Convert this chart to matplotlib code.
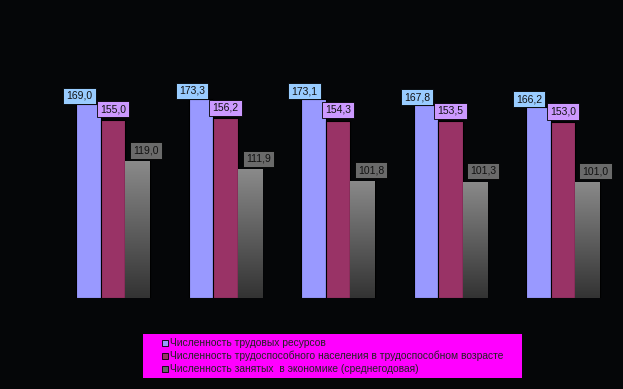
import numpy as np
import matplotlib
matplotlib.use("Agg")
import matplotlib.pyplot as plt
from matplotlib.patches import Rectangle

categories = ["1", "2", "3", "4", "5"]
series_names = [
    "Численность трудовых ресурсов",
    "Численность трудоспособного населения в трудоспособном возрасте",
    "Численность занятых  в экономике (среднегодовая)",
]
s1 = [169.0, 173.3, 173.1, 167.8, 166.2]
s2 = [155.0, 156.2, 154.3, 153.5, 153.0]
s3 = [119.0, 111.9, 101.8, 101.3, 101.0]

W, H = 623, 389
fig = plt.figure(figsize=(W / 100, H / 100), dpi=100)
fig.patch.set_facecolor("#050608")
ax = fig.add_axes([57 / W, 1 - 298 / H, 562 / W, 230 / H])
ax.set_facecolor("#050608")
for sp in ax.spines.values():
    sp.set_visible(False)
ax.set_xticks([])
ax.set_yticks([])
ax.set_ylim(0, 200)
ax.set_xlim(-0.5, len(categories) - 0.5)

x = np.arange(len(categories))
bw = 0.218
fam = ["Liberation Sans", "DejaVu Sans"]

b1 = ax.bar(x - bw, s1, bw, color="#9999FF", edgecolor="#000000", linewidth=0.8)
b2 = ax.bar(x, s2, bw, color="#993366", edgecolor="#000000", linewidth=0.8)
b3 = ax.bar(x + bw, s3, bw, color="none", edgecolor="#000000", linewidth=0.8)

# gradient for the third series
grad = np.linspace(0, 1, 256).reshape(-1, 1)
cmap = matplotlib.colors.LinearSegmentedColormap.from_list("g", ["#333333", "#8a8a8a"])
for r in b3:
    x0 = r.get_x()
    h = r.get_height()
    im = ax.imshow(grad, extent=(x0, x0 + r.get_width(), 0, h), origin="lower",
                   cmap=cmap, aspect="auto", zorder=1.5)
    im.set_clip_path(r)
ax.set_xlim(-0.5, len(categories) - 0.5)
ax.set_ylim(0, 200)

def lab(bars, vals, dx, dy, fc):
    for r, v in zip(bars, vals):
        ax.annotate(f"{v:.1f}".replace(".", ","),
                    (r.get_x() + r.get_width() / 2, v),
                    xytext=(dx, dy), textcoords="offset points",
                    ha="center", va="bottom", fontsize=7.5, color="#111111",
                    family=fam, zorder=5,
                    bbox=dict(boxstyle="square,pad=0.3", fc=fc, ec="#000000", lw=0.6))

lab(b1, s1, -6.5, 2.0, "#99CCFF")
lab(b2, s2, 0, 4.0, "#CC99FF")
lab(b3, s3, 6, 4.0, "#6a6a6a")

# legend
fig.patches.append(Rectangle((143 / W, 1 - 378 / H), 379 / W, 44 / H,
                             transform=fig.transFigure, fc="#FF00FF", ec="none"))
cols = ["#9999FF", "#993366", "#666666"]
ys = [343, 356, 369]
for c, name, yy in zip(cols, series_names, ys):
    fig.patches.append(Rectangle((162 / W, 1 - (yy + 3) / H), 6 / W, 6 / H,
                                 transform=fig.transFigure, fc=c, ec="#000000", lw=0.6))
    fig.text(170 / W, 1 - yy / H, name, fontsize=7.4, color="#222222",
             va="center", ha="left", family=fam)

fig.savefig("out.png", dpi=100, facecolor=fig.get_facecolor())
